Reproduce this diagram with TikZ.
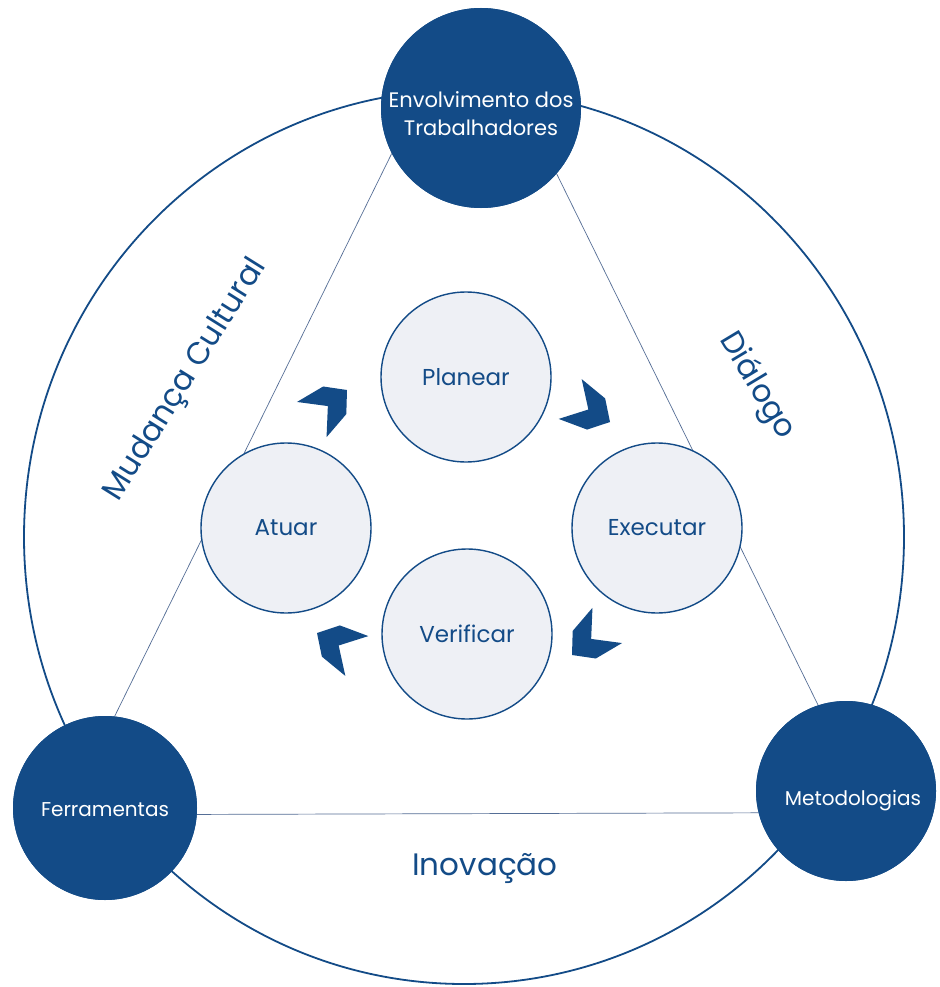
\documentclass[tikz,border=0pt]{standalone}
\usepackage{fontspec}
\setmainfont{Poppins}
\definecolor{dkblue}{RGB}{19,75,135}
\definecolor{lightfill}{RGB}{238,240,245}
\definecolor{linegray}{RGB}{85,110,150}
\newcommand{\chevr}[3]{\fill[chevronfill, shift={(#1,#2)}, rotate=#3] (0,0) -- (-16,18) -- (-46,23) -- (-25,0) -- (-46,-23) -- (-16,-18) -- cycle;}
\begin{document}
\begin{tikzpicture}[x=1pt,y=-1pt,
  darkcirc/.style={circle, fill=dkblue, inner sep=0pt},
  darklabel/.style={text=white, inner sep=0pt, align=center, font=\fontsize{21}{28}\selectfont},
  lightcirc/.style={circle, draw=dkblue, line width=1.4pt, fill=lightfill, minimum size=170pt, inner sep=0pt, text=dkblue, font=\fontsize{23}{28}\selectfont},
  biglabel/.style={text=dkblue, font=\fontsize{31}{38}\selectfont, inner sep=0pt},
  triline/.style={draw=linegray, line width=0.7pt},
  bigring/.style={draw=dkblue, line width=1.8pt},
  chevronfill/.style={fill=dkblue}
]
\useasboundingbox (0,0) rectangle (939,987);
\fill[white] (0,0) rectangle (939,987);

% outer ring
\draw[bigring] (464,537) ellipse [x radius=440, y radius=447];

% corner circles
\node[darkcirc, minimum size=200pt] (top) at (481,108) {};
\node[darkcirc, minimum size=184pt] (ferr) at (105,808) {};
\node[darkcirc, minimum size=180pt] (meto) at (846,791) {};

% triangle
\draw[triline] (top.207) -- (ferr.84);
\draw[triline] (top.319) -- (meto.108);
\draw[triline] (ferr.-4) -- (meto.194);

% redraw corner circles on top of the lines
\node[darkcirc, minimum size=200pt] at (top) {};
\node[darkcirc, minimum size=184pt] at (ferr) {};
\node[darkcirc, minimum size=180pt] at (meto) {};

% corner labels
\node[darklabel] (toplbl) at (481,114) {Envolvimento dos\\Trabalhadores};
\node[darklabel, font=\fontsize{20}{26}\selectfont] (ferrlbl) at (105,810) {Ferramentas};
\node[darklabel, font=\fontsize{20}{26}\selectfont] (metolbl) at (853,801) {Metodologias};

% PDCA circles
\node[lightcirc] (plan) at (466,377) {Planear};
\node[lightcirc] (exec) at (657,528) {Executar};
\node[lightcirc] (verif) at (467,634) {Verificar};
\node[lightcirc] (act) at (286,528) {Atuar};

% chevrons
\chevr{347}{390}{40}
\chevr{610}{422}{-30}
\chevr{572}{655}{-140}
\chevr{317}{633}{150}

% side labels
\node[biglabel, rotate=58] (mud) at (186,380) {Mudança Cultural};
\node[biglabel, rotate=-59] (dia) at (757,386) {Diálogo};
\node[biglabel] (ino) at (485,868) {Inovação};
\end{tikzpicture}
\end{document}
